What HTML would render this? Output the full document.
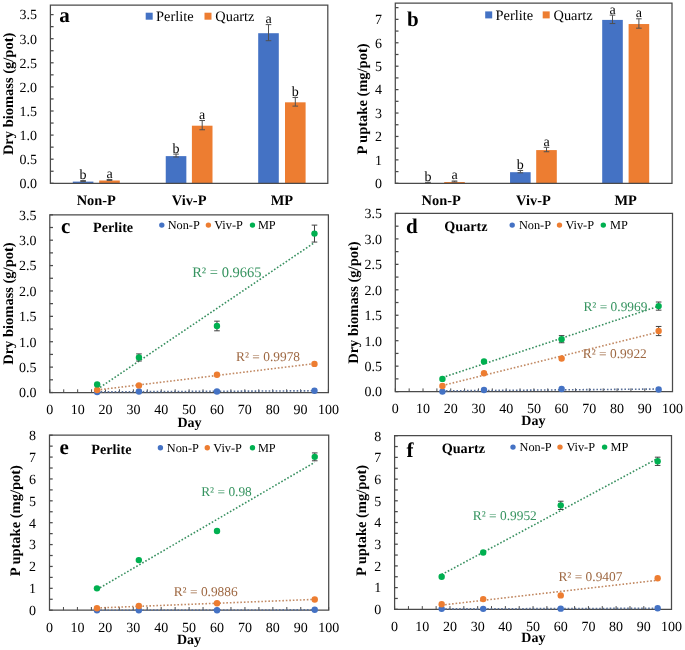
<!DOCTYPE html>
<html><head><meta charset="utf-8"><title>Figure</title>
<style>
html,body{margin:0;padding:0;background:#fff;}
body{width:685px;height:650px;overflow:hidden;}
svg{display:block;filter:blur(0.3px);font-family:'Liberation Serif', serif;text-rendering:geometricPrecision;}
</style></head>
<body>
<svg width="685" height="650" viewBox="0 0 685 650">
<rect width="685" height="650" fill="#fff"/>
<rect x="72.80" y="181.61" width="20.60" height="1.69" fill="#4472C4"/>
<rect x="99.20" y="180.50" width="20.60" height="2.80" fill="#ED7D31"/>
<line x1="83.10" y1="180.58" x2="83.10" y2="181.54" stroke="#505050" stroke-width="1" />
<line x1="80.30" y1="180.58" x2="85.90" y2="180.58" stroke="#505050" stroke-width="1" />
<line x1="80.30" y1="181.54" x2="85.90" y2="181.54" stroke="#505050" stroke-width="1" />
<text x="83.10" y="178.98" font-size="14" text-anchor="middle" font-weight="normal" fill="#000" >b</text>
<line x1="109.50" y1="179.47" x2="109.50" y2="180.44" stroke="#505050" stroke-width="1" />
<line x1="106.70" y1="179.47" x2="112.30" y2="179.47" stroke="#505050" stroke-width="1" />
<line x1="106.70" y1="180.44" x2="112.30" y2="180.44" stroke="#505050" stroke-width="1" />
<text x="109.50" y="177.87" font-size="14" text-anchor="middle" font-weight="normal" fill="#000" >a</text>
<text x="96.30" y="204.90" font-size="14.4" text-anchor="middle" font-weight="bold" fill="#000" >Non-P</text>
<rect x="165.75" y="156.12" width="20.60" height="27.18" fill="#4472C4"/>
<rect x="191.90" y="125.70" width="20.60" height="57.60" fill="#ED7D31"/>
<line x1="176.05" y1="154.12" x2="176.05" y2="157.01" stroke="#505050" stroke-width="1" />
<line x1="173.25" y1="154.12" x2="178.85" y2="154.12" stroke="#505050" stroke-width="1" />
<line x1="173.25" y1="157.01" x2="178.85" y2="157.01" stroke="#505050" stroke-width="1" />
<text x="176.05" y="152.52" font-size="14" text-anchor="middle" font-weight="normal" fill="#000" >b</text>
<line x1="202.20" y1="120.52" x2="202.20" y2="129.78" stroke="#505050" stroke-width="1" />
<line x1="199.40" y1="120.52" x2="205.00" y2="120.52" stroke="#505050" stroke-width="1" />
<line x1="199.40" y1="129.78" x2="205.00" y2="129.78" stroke="#505050" stroke-width="1" />
<text x="202.20" y="118.92" font-size="14" text-anchor="middle" font-weight="normal" fill="#000" >a</text>
<text x="189.12" y="204.90" font-size="14.4" text-anchor="middle" font-weight="bold" fill="#000" >Viv-P</text>
<rect x="258.20" y="33.21" width="20.60" height="150.09" fill="#4472C4"/>
<rect x="285.00" y="102.32" width="20.60" height="80.98" fill="#ED7D31"/>
<line x1="268.50" y1="24.61" x2="268.50" y2="40.70" stroke="#505050" stroke-width="1" />
<line x1="265.70" y1="24.61" x2="271.30" y2="24.61" stroke="#505050" stroke-width="1" />
<line x1="265.70" y1="40.70" x2="271.30" y2="40.70" stroke="#505050" stroke-width="1" />
<text x="268.50" y="23.01" font-size="14" text-anchor="middle" font-weight="normal" fill="#000" >a</text>
<line x1="295.30" y1="97.44" x2="295.30" y2="106.11" stroke="#505050" stroke-width="1" />
<line x1="292.50" y1="97.44" x2="298.10" y2="97.44" stroke="#505050" stroke-width="1" />
<line x1="292.50" y1="106.11" x2="298.10" y2="106.11" stroke="#505050" stroke-width="1" />
<text x="295.30" y="95.84" font-size="14" text-anchor="middle" font-weight="normal" fill="#000" >b</text>
<text x="281.90" y="204.90" font-size="14.4" text-anchor="middle" font-weight="bold" fill="#000" >MP</text>
<path d="M50.40 183.30 L50.40 5.00 L327.80 5.00 L327.80 183.30 Z" fill="none" stroke="#4a4a4a" stroke-width="1.25"/>
<line x1="50.40" y1="183.30" x2="53.60" y2="183.30" stroke="#4a4a4a" stroke-width="1.25" />
<line x1="50.40" y1="171.25" x2="53.60" y2="171.25" stroke="#4a4a4a" stroke-width="1.25" />
<line x1="50.40" y1="159.20" x2="53.60" y2="159.20" stroke="#4a4a4a" stroke-width="1.25" />
<line x1="50.40" y1="147.15" x2="53.60" y2="147.15" stroke="#4a4a4a" stroke-width="1.25" />
<line x1="50.40" y1="135.10" x2="53.60" y2="135.10" stroke="#4a4a4a" stroke-width="1.25" />
<line x1="50.40" y1="123.05" x2="53.60" y2="123.05" stroke="#4a4a4a" stroke-width="1.25" />
<line x1="50.40" y1="111.00" x2="53.60" y2="111.00" stroke="#4a4a4a" stroke-width="1.25" />
<line x1="50.40" y1="98.95" x2="53.60" y2="98.95" stroke="#4a4a4a" stroke-width="1.25" />
<line x1="50.40" y1="86.90" x2="53.60" y2="86.90" stroke="#4a4a4a" stroke-width="1.25" />
<line x1="50.40" y1="74.85" x2="53.60" y2="74.85" stroke="#4a4a4a" stroke-width="1.25" />
<line x1="50.40" y1="62.80" x2="53.60" y2="62.80" stroke="#4a4a4a" stroke-width="1.25" />
<line x1="50.40" y1="50.75" x2="53.60" y2="50.75" stroke="#4a4a4a" stroke-width="1.25" />
<line x1="50.40" y1="38.70" x2="53.60" y2="38.70" stroke="#4a4a4a" stroke-width="1.25" />
<line x1="50.40" y1="26.65" x2="53.60" y2="26.65" stroke="#4a4a4a" stroke-width="1.25" />
<line x1="50.40" y1="14.60" x2="53.60" y2="14.60" stroke="#4a4a4a" stroke-width="1.25" />
<text x="37.00" y="188.10" font-size="14" text-anchor="end" font-weight="normal" fill="#000" >0.0</text>
<text x="37.00" y="164.00" font-size="14" text-anchor="end" font-weight="normal" fill="#000" >0.5</text>
<text x="37.00" y="139.90" font-size="14" text-anchor="end" font-weight="normal" fill="#000" >1.0</text>
<text x="37.00" y="115.80" font-size="14" text-anchor="end" font-weight="normal" fill="#000" >1.5</text>
<text x="37.00" y="91.70" font-size="14" text-anchor="end" font-weight="normal" fill="#000" >2.0</text>
<text x="37.00" y="67.60" font-size="14" text-anchor="end" font-weight="normal" fill="#000" >2.5</text>
<text x="37.00" y="43.50" font-size="14" text-anchor="end" font-weight="normal" fill="#000" >3.0</text>
<text x="37.00" y="19.40" font-size="14" text-anchor="end" font-weight="normal" fill="#000" >3.5</text>
<text x="0" y="0" font-size="14.5" font-weight="bold" text-anchor="middle" fill="#000" transform="translate(12.70,93.90) rotate(-90)">Dry biomass (g/pot)</text>
<rect x="145.70" y="12.70" width="7" height="7" fill="#4472C4"/>
<text x="156.00" y="21.40" font-size="14.4" text-anchor="start" font-weight="normal" fill="#000" >Perlite</text>
<rect x="204.50" y="12.70" width="7" height="7" fill="#ED7D31"/>
<text x="215.30" y="21.40" font-size="14.4" text-anchor="start" font-weight="normal" fill="#000" >Quartz</text>
<text x="59.20" y="22.30" font-size="21.0" text-anchor="start" font-weight="bold" fill="#000" >a</text>
<rect x="417.60" y="183.07" width="20.60" height="0.23" fill="#4472C4"/>
<rect x="444.20" y="182.01" width="20.60" height="1.29" fill="#ED7D31"/>
<line x1="427.90" y1="182.28" x2="427.90" y2="182.75" stroke="#505050" stroke-width="1" />
<line x1="425.10" y1="182.28" x2="430.70" y2="182.28" stroke="#505050" stroke-width="1" />
<line x1="425.10" y1="182.75" x2="430.70" y2="182.75" stroke="#505050" stroke-width="1" />
<text x="427.90" y="180.68" font-size="14" text-anchor="middle" font-weight="normal" fill="#000" >b</text>
<line x1="454.50" y1="180.99" x2="454.50" y2="181.93" stroke="#505050" stroke-width="1" />
<line x1="451.70" y1="180.99" x2="457.30" y2="180.99" stroke="#505050" stroke-width="1" />
<line x1="451.70" y1="181.93" x2="457.30" y2="181.93" stroke="#505050" stroke-width="1" />
<text x="454.50" y="179.39" font-size="14" text-anchor="middle" font-weight="normal" fill="#000" >a</text>
<text x="441.20" y="204.90" font-size="14.4" text-anchor="middle" font-weight="bold" fill="#000" >Non-P</text>
<rect x="510.05" y="172.20" width="20.60" height="11.10" fill="#4472C4"/>
<rect x="536.20" y="150.09" width="20.60" height="33.21" fill="#ED7D31"/>
<line x1="520.35" y1="170.48" x2="520.35" y2="172.82" stroke="#505050" stroke-width="1" />
<line x1="517.55" y1="170.48" x2="523.15" y2="170.48" stroke="#505050" stroke-width="1" />
<line x1="517.55" y1="172.82" x2="523.15" y2="172.82" stroke="#505050" stroke-width="1" />
<text x="520.35" y="168.88" font-size="14" text-anchor="middle" font-weight="normal" fill="#000" >b</text>
<line x1="546.50" y1="147.34" x2="546.50" y2="151.74" stroke="#505050" stroke-width="1" />
<line x1="543.70" y1="147.34" x2="549.30" y2="147.34" stroke="#505050" stroke-width="1" />
<line x1="543.70" y1="151.74" x2="549.30" y2="151.74" stroke="#505050" stroke-width="1" />
<text x="546.50" y="145.74" font-size="14" text-anchor="middle" font-weight="normal" fill="#000" >a</text>
<text x="533.42" y="204.90" font-size="14.4" text-anchor="middle" font-weight="bold" fill="#000" >Viv-P</text>
<rect x="602.20" y="19.90" width="20.60" height="163.40" fill="#4472C4"/>
<rect x="628.60" y="24.04" width="20.60" height="159.26" fill="#ED7D31"/>
<line x1="612.50" y1="15.13" x2="612.50" y2="23.56" stroke="#505050" stroke-width="1" />
<line x1="609.70" y1="15.13" x2="615.30" y2="15.13" stroke="#505050" stroke-width="1" />
<line x1="609.70" y1="23.56" x2="615.30" y2="23.56" stroke="#505050" stroke-width="1" />
<text x="612.50" y="13.53" font-size="14" text-anchor="middle" font-weight="normal" fill="#000" >a</text>
<line x1="638.90" y1="18.81" x2="638.90" y2="28.18" stroke="#505050" stroke-width="1" />
<line x1="636.10" y1="18.81" x2="641.70" y2="18.81" stroke="#505050" stroke-width="1" />
<line x1="636.10" y1="28.18" x2="641.70" y2="28.18" stroke="#505050" stroke-width="1" />
<text x="638.90" y="17.21" font-size="14" text-anchor="middle" font-weight="normal" fill="#000" >a</text>
<text x="625.70" y="204.90" font-size="14.4" text-anchor="middle" font-weight="bold" fill="#000" >MP</text>
<path d="M395.30 183.30 L395.30 3.10 L672.00 3.10 L672.00 183.30 Z" fill="none" stroke="#4a4a4a" stroke-width="1.25"/>
<line x1="395.30" y1="183.30" x2="398.50" y2="183.30" stroke="#4a4a4a" stroke-width="1.25" />
<line x1="395.30" y1="171.59" x2="398.50" y2="171.59" stroke="#4a4a4a" stroke-width="1.25" />
<line x1="395.30" y1="159.88" x2="398.50" y2="159.88" stroke="#4a4a4a" stroke-width="1.25" />
<line x1="395.30" y1="148.17" x2="398.50" y2="148.17" stroke="#4a4a4a" stroke-width="1.25" />
<line x1="395.30" y1="136.46" x2="398.50" y2="136.46" stroke="#4a4a4a" stroke-width="1.25" />
<line x1="395.30" y1="124.75" x2="398.50" y2="124.75" stroke="#4a4a4a" stroke-width="1.25" />
<line x1="395.30" y1="113.04" x2="398.50" y2="113.04" stroke="#4a4a4a" stroke-width="1.25" />
<line x1="395.30" y1="101.33" x2="398.50" y2="101.33" stroke="#4a4a4a" stroke-width="1.25" />
<line x1="395.30" y1="89.62" x2="398.50" y2="89.62" stroke="#4a4a4a" stroke-width="1.25" />
<line x1="395.30" y1="77.91" x2="398.50" y2="77.91" stroke="#4a4a4a" stroke-width="1.25" />
<line x1="395.30" y1="66.20" x2="398.50" y2="66.20" stroke="#4a4a4a" stroke-width="1.25" />
<line x1="395.30" y1="54.49" x2="398.50" y2="54.49" stroke="#4a4a4a" stroke-width="1.25" />
<line x1="395.30" y1="42.78" x2="398.50" y2="42.78" stroke="#4a4a4a" stroke-width="1.25" />
<line x1="395.30" y1="31.07" x2="398.50" y2="31.07" stroke="#4a4a4a" stroke-width="1.25" />
<line x1="395.30" y1="19.36" x2="398.50" y2="19.36" stroke="#4a4a4a" stroke-width="1.25" />
<line x1="395.30" y1="7.65" x2="398.50" y2="7.65" stroke="#4a4a4a" stroke-width="1.25" />
<text x="381.90" y="188.10" font-size="14" text-anchor="end" font-weight="normal" fill="#000" >0</text>
<text x="381.90" y="164.68" font-size="14" text-anchor="end" font-weight="normal" fill="#000" >1</text>
<text x="381.90" y="141.26" font-size="14" text-anchor="end" font-weight="normal" fill="#000" >2</text>
<text x="381.90" y="117.84" font-size="14" text-anchor="end" font-weight="normal" fill="#000" >3</text>
<text x="381.90" y="94.42" font-size="14" text-anchor="end" font-weight="normal" fill="#000" >4</text>
<text x="381.90" y="71.00" font-size="14" text-anchor="end" font-weight="normal" fill="#000" >5</text>
<text x="381.90" y="47.58" font-size="14" text-anchor="end" font-weight="normal" fill="#000" >6</text>
<text x="381.90" y="24.16" font-size="14" text-anchor="end" font-weight="normal" fill="#000" >7</text>
<text x="0" y="0" font-size="14.5" font-weight="bold" text-anchor="middle" fill="#000" transform="translate(367.00,99.00) rotate(-90)">P uptake (mg/pot)</text>
<rect x="485.20" y="11.40" width="7" height="7" fill="#4472C4"/>
<text x="495.50" y="20.10" font-size="14.4" text-anchor="start" font-weight="normal" fill="#000" >Perlite</text>
<rect x="542.70" y="11.40" width="7" height="7" fill="#ED7D31"/>
<text x="553.50" y="20.10" font-size="14.4" text-anchor="start" font-weight="normal" fill="#000" >Quartz</text>
<text x="407.00" y="26.00" font-size="21.0" text-anchor="start" font-weight="bold" fill="#000" >b</text>
<path d="M49.80 392.50 L49.80 214.90 L328.40 214.90 L328.40 392.50 Z" fill="none" stroke="#4a4a4a" stroke-width="1.25"/>
<line x1="49.80" y1="392.50" x2="49.80" y2="389.30" stroke="#4a4a4a" stroke-width="1.0" />
<line x1="63.73" y1="392.50" x2="63.73" y2="389.30" stroke="#4a4a4a" stroke-width="1.0" />
<line x1="77.66" y1="392.50" x2="77.66" y2="389.30" stroke="#4a4a4a" stroke-width="1.0" />
<line x1="91.59" y1="392.50" x2="91.59" y2="389.30" stroke="#4a4a4a" stroke-width="1.0" />
<line x1="105.52" y1="392.50" x2="105.52" y2="389.30" stroke="#4a4a4a" stroke-width="1.0" />
<line x1="119.45" y1="392.50" x2="119.45" y2="389.30" stroke="#4a4a4a" stroke-width="1.0" />
<line x1="133.38" y1="392.50" x2="133.38" y2="389.30" stroke="#4a4a4a" stroke-width="1.0" />
<line x1="147.31" y1="392.50" x2="147.31" y2="389.30" stroke="#4a4a4a" stroke-width="1.0" />
<line x1="161.24" y1="392.50" x2="161.24" y2="389.30" stroke="#4a4a4a" stroke-width="1.0" />
<line x1="175.17" y1="392.50" x2="175.17" y2="389.30" stroke="#4a4a4a" stroke-width="1.0" />
<line x1="189.10" y1="392.50" x2="189.10" y2="389.30" stroke="#4a4a4a" stroke-width="1.0" />
<line x1="203.03" y1="392.50" x2="203.03" y2="389.30" stroke="#4a4a4a" stroke-width="1.0" />
<line x1="216.96" y1="392.50" x2="216.96" y2="389.30" stroke="#4a4a4a" stroke-width="1.0" />
<line x1="230.89" y1="392.50" x2="230.89" y2="389.30" stroke="#4a4a4a" stroke-width="1.0" />
<line x1="244.82" y1="392.50" x2="244.82" y2="389.30" stroke="#4a4a4a" stroke-width="1.0" />
<line x1="258.75" y1="392.50" x2="258.75" y2="389.30" stroke="#4a4a4a" stroke-width="1.0" />
<line x1="272.68" y1="392.50" x2="272.68" y2="389.30" stroke="#4a4a4a" stroke-width="1.0" />
<line x1="286.61" y1="392.50" x2="286.61" y2="389.30" stroke="#4a4a4a" stroke-width="1.0" />
<line x1="300.54" y1="392.50" x2="300.54" y2="389.30" stroke="#4a4a4a" stroke-width="1.0" />
<line x1="314.47" y1="392.50" x2="314.47" y2="389.30" stroke="#4a4a4a" stroke-width="1.0" />
<line x1="328.40" y1="392.50" x2="328.40" y2="389.30" stroke="#4a4a4a" stroke-width="1.0" />
<text x="49.80" y="414.10" font-size="14" text-anchor="middle" font-weight="normal" fill="#000" >0</text>
<text x="77.66" y="414.10" font-size="14" text-anchor="middle" font-weight="normal" fill="#000" >10</text>
<text x="105.52" y="414.10" font-size="14" text-anchor="middle" font-weight="normal" fill="#000" >20</text>
<text x="133.38" y="414.10" font-size="14" text-anchor="middle" font-weight="normal" fill="#000" >30</text>
<text x="161.24" y="414.10" font-size="14" text-anchor="middle" font-weight="normal" fill="#000" >40</text>
<text x="189.10" y="414.10" font-size="14" text-anchor="middle" font-weight="normal" fill="#000" >50</text>
<text x="216.96" y="414.10" font-size="14" text-anchor="middle" font-weight="normal" fill="#000" >60</text>
<text x="244.82" y="414.10" font-size="14" text-anchor="middle" font-weight="normal" fill="#000" >70</text>
<text x="272.68" y="414.10" font-size="14" text-anchor="middle" font-weight="normal" fill="#000" >80</text>
<text x="300.54" y="414.10" font-size="14" text-anchor="middle" font-weight="normal" fill="#000" >90</text>
<text x="328.40" y="414.10" font-size="14" text-anchor="middle" font-weight="normal" fill="#000" >100</text>
<line x1="49.80" y1="392.50" x2="53.00" y2="392.50" stroke="#4a4a4a" stroke-width="1.25" />
<line x1="49.80" y1="379.81" x2="53.00" y2="379.81" stroke="#4a4a4a" stroke-width="1.25" />
<line x1="49.80" y1="367.12" x2="53.00" y2="367.12" stroke="#4a4a4a" stroke-width="1.25" />
<line x1="49.80" y1="354.42" x2="53.00" y2="354.42" stroke="#4a4a4a" stroke-width="1.25" />
<line x1="49.80" y1="341.73" x2="53.00" y2="341.73" stroke="#4a4a4a" stroke-width="1.25" />
<line x1="49.80" y1="329.04" x2="53.00" y2="329.04" stroke="#4a4a4a" stroke-width="1.25" />
<line x1="49.80" y1="316.35" x2="53.00" y2="316.35" stroke="#4a4a4a" stroke-width="1.25" />
<line x1="49.80" y1="303.65" x2="53.00" y2="303.65" stroke="#4a4a4a" stroke-width="1.25" />
<line x1="49.80" y1="290.96" x2="53.00" y2="290.96" stroke="#4a4a4a" stroke-width="1.25" />
<line x1="49.80" y1="278.27" x2="53.00" y2="278.27" stroke="#4a4a4a" stroke-width="1.25" />
<line x1="49.80" y1="265.57" x2="53.00" y2="265.57" stroke="#4a4a4a" stroke-width="1.25" />
<line x1="49.80" y1="252.88" x2="53.00" y2="252.88" stroke="#4a4a4a" stroke-width="1.25" />
<line x1="49.80" y1="240.19" x2="53.00" y2="240.19" stroke="#4a4a4a" stroke-width="1.25" />
<line x1="49.80" y1="227.50" x2="53.00" y2="227.50" stroke="#4a4a4a" stroke-width="1.25" />
<line x1="49.80" y1="214.80" x2="53.00" y2="214.80" stroke="#4a4a4a" stroke-width="1.25" />
<text x="36.40" y="397.30" font-size="14" text-anchor="end" font-weight="normal" fill="#000" >0.0</text>
<text x="36.40" y="371.92" font-size="14" text-anchor="end" font-weight="normal" fill="#000" >0.5</text>
<text x="36.40" y="346.53" font-size="14" text-anchor="end" font-weight="normal" fill="#000" >1.0</text>
<text x="36.40" y="321.15" font-size="14" text-anchor="end" font-weight="normal" fill="#000" >1.5</text>
<text x="36.40" y="295.76" font-size="14" text-anchor="end" font-weight="normal" fill="#000" >2.0</text>
<text x="36.40" y="270.38" font-size="14" text-anchor="end" font-weight="normal" fill="#000" >2.5</text>
<text x="36.40" y="244.99" font-size="14" text-anchor="end" font-weight="normal" fill="#000" >3.0</text>
<text x="36.40" y="219.60" font-size="14" text-anchor="end" font-weight="normal" fill="#000" >3.5</text>
<text x="0" y="0" font-size="14.5" font-weight="bold" text-anchor="middle" fill="#000" transform="translate(12.70,303.60) rotate(-90)">Dry biomass (g/pot)</text>
<line x1="97.16" y1="391.91" x2="314.47" y2="390.79" stroke="#597099" stroke-width="1.6" stroke-dasharray="1.6 1.9"/>
<line x1="97.16" y1="390.01" x2="314.47" y2="363.61" stroke="#C28A64" stroke-width="1.6" stroke-dasharray="1.6 1.9"/>
<line x1="97.16" y1="389.32" x2="314.47" y2="242.58" stroke="#389060" stroke-width="1.6" stroke-dasharray="1.6 1.9"/>
<circle cx="97.16" cy="391.99" r="3.2" fill="#4472C4"/>
<circle cx="138.95" cy="391.48" r="3.2" fill="#4472C4"/>
<circle cx="216.96" cy="391.48" r="3.2" fill="#4472C4"/>
<circle cx="314.47" cy="390.72" r="3.2" fill="#4472C4"/>
<circle cx="97.16" cy="389.96" r="3.2" fill="#ED7D31"/>
<circle cx="138.95" cy="385.39" r="3.2" fill="#ED7D31"/>
<circle cx="216.96" cy="374.73" r="3.2" fill="#ED7D31"/>
<circle cx="314.47" cy="363.92" r="3.2" fill="#ED7D31"/>
<circle cx="97.16" cy="384.38" r="3.2" fill="#00B050"/>
<line x1="138.95" y1="353.91" x2="138.95" y2="361.02" stroke="#404040" stroke-width="1" />
<line x1="136.15" y1="353.91" x2="141.75" y2="353.91" stroke="#404040" stroke-width="1" />
<line x1="136.15" y1="361.02" x2="141.75" y2="361.02" stroke="#404040" stroke-width="1" />
<circle cx="138.95" cy="357.47" r="3.2" fill="#00B050"/>
<line x1="216.96" y1="321.17" x2="216.96" y2="330.81" stroke="#404040" stroke-width="1" />
<line x1="214.16" y1="321.17" x2="219.76" y2="321.17" stroke="#404040" stroke-width="1" />
<line x1="214.16" y1="330.81" x2="219.76" y2="330.81" stroke="#404040" stroke-width="1" />
<circle cx="216.96" cy="325.99" r="3.2" fill="#00B050"/>
<line x1="314.47" y1="225.11" x2="314.47" y2="242.07" stroke="#404040" stroke-width="1" />
<line x1="311.67" y1="225.11" x2="317.27" y2="225.11" stroke="#404040" stroke-width="1" />
<line x1="311.67" y1="242.07" x2="317.27" y2="242.07" stroke="#404040" stroke-width="1" />
<circle cx="314.47" cy="233.59" r="3.2" fill="#00B050"/>
<text x="192.20" y="277.20" font-size="14.5" text-anchor="start" font-weight="normal" fill="#35935F" >R² = 0.9665</text>
<text x="236.00" y="360.80" font-size="13.4" text-anchor="start" font-weight="normal" fill="#9E6842" >R² = 0.9978</text>
<text x="93.00" y="231.60" font-size="14.2" text-anchor="start" font-weight="bold" fill="#000" >Perlite</text>
<circle cx="161.80" cy="225.10" r="2.7" fill="#4472C4"/>
<text x="167.70" y="229.20" font-size="12.3" text-anchor="start" font-weight="normal" fill="#000" >Non-P</text>
<circle cx="208.40" cy="225.10" r="2.7" fill="#ED7D31"/>
<text x="214.20" y="229.20" font-size="12.3" text-anchor="start" font-weight="normal" fill="#000" >Viv-P</text>
<circle cx="252.50" cy="225.10" r="2.7" fill="#00B050"/>
<text x="257.90" y="229.20" font-size="12.3" text-anchor="start" font-weight="normal" fill="#000" >MP</text>
<text x="177.50" y="427.20" font-size="14" text-anchor="start" font-weight="bold" fill="#000" >Day</text>
<text x="61.00" y="233.00" font-size="21.0" text-anchor="start" font-weight="bold" fill="#000" >c</text>
<path d="M395.30 391.60 L395.30 213.40 L672.50 213.40 L672.50 391.60 Z" fill="none" stroke="#4a4a4a" stroke-width="1.25"/>
<line x1="395.30" y1="391.60" x2="395.30" y2="388.40" stroke="#4a4a4a" stroke-width="1.0" />
<line x1="409.16" y1="391.60" x2="409.16" y2="388.40" stroke="#4a4a4a" stroke-width="1.0" />
<line x1="423.02" y1="391.60" x2="423.02" y2="388.40" stroke="#4a4a4a" stroke-width="1.0" />
<line x1="436.88" y1="391.60" x2="436.88" y2="388.40" stroke="#4a4a4a" stroke-width="1.0" />
<line x1="450.74" y1="391.60" x2="450.74" y2="388.40" stroke="#4a4a4a" stroke-width="1.0" />
<line x1="464.60" y1="391.60" x2="464.60" y2="388.40" stroke="#4a4a4a" stroke-width="1.0" />
<line x1="478.46" y1="391.60" x2="478.46" y2="388.40" stroke="#4a4a4a" stroke-width="1.0" />
<line x1="492.32" y1="391.60" x2="492.32" y2="388.40" stroke="#4a4a4a" stroke-width="1.0" />
<line x1="506.18" y1="391.60" x2="506.18" y2="388.40" stroke="#4a4a4a" stroke-width="1.0" />
<line x1="520.04" y1="391.60" x2="520.04" y2="388.40" stroke="#4a4a4a" stroke-width="1.0" />
<line x1="533.90" y1="391.60" x2="533.90" y2="388.40" stroke="#4a4a4a" stroke-width="1.0" />
<line x1="547.76" y1="391.60" x2="547.76" y2="388.40" stroke="#4a4a4a" stroke-width="1.0" />
<line x1="561.62" y1="391.60" x2="561.62" y2="388.40" stroke="#4a4a4a" stroke-width="1.0" />
<line x1="575.48" y1="391.60" x2="575.48" y2="388.40" stroke="#4a4a4a" stroke-width="1.0" />
<line x1="589.34" y1="391.60" x2="589.34" y2="388.40" stroke="#4a4a4a" stroke-width="1.0" />
<line x1="603.20" y1="391.60" x2="603.20" y2="388.40" stroke="#4a4a4a" stroke-width="1.0" />
<line x1="617.06" y1="391.60" x2="617.06" y2="388.40" stroke="#4a4a4a" stroke-width="1.0" />
<line x1="630.92" y1="391.60" x2="630.92" y2="388.40" stroke="#4a4a4a" stroke-width="1.0" />
<line x1="644.78" y1="391.60" x2="644.78" y2="388.40" stroke="#4a4a4a" stroke-width="1.0" />
<line x1="658.64" y1="391.60" x2="658.64" y2="388.40" stroke="#4a4a4a" stroke-width="1.0" />
<line x1="672.50" y1="391.60" x2="672.50" y2="388.40" stroke="#4a4a4a" stroke-width="1.0" />
<text x="395.30" y="413.20" font-size="14" text-anchor="middle" font-weight="normal" fill="#000" >0</text>
<text x="423.02" y="413.20" font-size="14" text-anchor="middle" font-weight="normal" fill="#000" >10</text>
<text x="450.74" y="413.20" font-size="14" text-anchor="middle" font-weight="normal" fill="#000" >20</text>
<text x="478.46" y="413.20" font-size="14" text-anchor="middle" font-weight="normal" fill="#000" >30</text>
<text x="506.18" y="413.20" font-size="14" text-anchor="middle" font-weight="normal" fill="#000" >40</text>
<text x="533.90" y="413.20" font-size="14" text-anchor="middle" font-weight="normal" fill="#000" >50</text>
<text x="561.62" y="413.20" font-size="14" text-anchor="middle" font-weight="normal" fill="#000" >60</text>
<text x="589.34" y="413.20" font-size="14" text-anchor="middle" font-weight="normal" fill="#000" >70</text>
<text x="617.06" y="413.20" font-size="14" text-anchor="middle" font-weight="normal" fill="#000" >80</text>
<text x="644.78" y="413.20" font-size="14" text-anchor="middle" font-weight="normal" fill="#000" >90</text>
<text x="672.50" y="413.20" font-size="14" text-anchor="middle" font-weight="normal" fill="#000" >100</text>
<line x1="395.30" y1="391.60" x2="398.50" y2="391.60" stroke="#4a4a4a" stroke-width="1.25" />
<line x1="395.30" y1="378.88" x2="398.50" y2="378.88" stroke="#4a4a4a" stroke-width="1.25" />
<line x1="395.30" y1="366.15" x2="398.50" y2="366.15" stroke="#4a4a4a" stroke-width="1.25" />
<line x1="395.30" y1="353.43" x2="398.50" y2="353.43" stroke="#4a4a4a" stroke-width="1.25" />
<line x1="395.30" y1="340.70" x2="398.50" y2="340.70" stroke="#4a4a4a" stroke-width="1.25" />
<line x1="395.30" y1="327.98" x2="398.50" y2="327.98" stroke="#4a4a4a" stroke-width="1.25" />
<line x1="395.30" y1="315.25" x2="398.50" y2="315.25" stroke="#4a4a4a" stroke-width="1.25" />
<line x1="395.30" y1="302.53" x2="398.50" y2="302.53" stroke="#4a4a4a" stroke-width="1.25" />
<line x1="395.30" y1="289.80" x2="398.50" y2="289.80" stroke="#4a4a4a" stroke-width="1.25" />
<line x1="395.30" y1="277.08" x2="398.50" y2="277.08" stroke="#4a4a4a" stroke-width="1.25" />
<line x1="395.30" y1="264.35" x2="398.50" y2="264.35" stroke="#4a4a4a" stroke-width="1.25" />
<line x1="395.30" y1="251.63" x2="398.50" y2="251.63" stroke="#4a4a4a" stroke-width="1.25" />
<line x1="395.30" y1="238.90" x2="398.50" y2="238.90" stroke="#4a4a4a" stroke-width="1.25" />
<line x1="395.30" y1="226.18" x2="398.50" y2="226.18" stroke="#4a4a4a" stroke-width="1.25" />
<line x1="395.30" y1="213.45" x2="398.50" y2="213.45" stroke="#4a4a4a" stroke-width="1.25" />
<text x="381.90" y="396.40" font-size="14" text-anchor="end" font-weight="normal" fill="#000" >0.0</text>
<text x="381.90" y="370.95" font-size="14" text-anchor="end" font-weight="normal" fill="#000" >0.5</text>
<text x="381.90" y="345.50" font-size="14" text-anchor="end" font-weight="normal" fill="#000" >1.0</text>
<text x="381.90" y="320.05" font-size="14" text-anchor="end" font-weight="normal" fill="#000" >1.5</text>
<text x="381.90" y="294.60" font-size="14" text-anchor="end" font-weight="normal" fill="#000" >2.0</text>
<text x="381.90" y="269.15" font-size="14" text-anchor="end" font-weight="normal" fill="#000" >2.5</text>
<text x="381.90" y="243.70" font-size="14" text-anchor="end" font-weight="normal" fill="#000" >3.0</text>
<text x="381.90" y="218.25" font-size="14" text-anchor="end" font-weight="normal" fill="#000" >3.5</text>
<text x="0" y="0" font-size="14.5" font-weight="bold" text-anchor="middle" fill="#000" transform="translate(358.00,302.60) rotate(-90)">Dry biomass (g/pot)</text>
<line x1="442.42" y1="390.88" x2="658.64" y2="389.03" stroke="#597099" stroke-width="1.6" stroke-dasharray="1.6 1.9"/>
<line x1="442.42" y1="385.53" x2="658.64" y2="332.02" stroke="#C28A64" stroke-width="1.6" stroke-dasharray="1.6 1.9"/>
<line x1="442.42" y1="377.51" x2="658.64" y2="306.20" stroke="#389060" stroke-width="1.6" stroke-dasharray="1.6 1.9"/>
<circle cx="442.42" cy="391.60" r="3.2" fill="#4472C4"/>
<circle cx="484.00" cy="390.07" r="3.2" fill="#4472C4"/>
<circle cx="561.62" cy="389.06" r="3.2" fill="#4472C4"/>
<circle cx="658.64" cy="389.56" r="3.2" fill="#4472C4"/>
<circle cx="442.42" cy="386.00" r="3.2" fill="#ED7D31"/>
<circle cx="484.00" cy="373.28" r="3.2" fill="#ED7D31"/>
<circle cx="561.62" cy="358.52" r="3.2" fill="#ED7D31"/>
<line x1="658.64" y1="326.45" x2="658.64" y2="335.61" stroke="#404040" stroke-width="1" />
<line x1="655.84" y1="326.45" x2="661.44" y2="326.45" stroke="#404040" stroke-width="1" />
<line x1="655.84" y1="335.61" x2="661.44" y2="335.61" stroke="#404040" stroke-width="1" />
<circle cx="658.64" cy="331.03" r="3.2" fill="#ED7D31"/>
<circle cx="442.42" cy="378.88" r="3.2" fill="#00B050"/>
<circle cx="484.00" cy="361.57" r="3.2" fill="#00B050"/>
<line x1="561.62" y1="335.61" x2="561.62" y2="342.74" stroke="#404040" stroke-width="1" />
<line x1="558.82" y1="335.61" x2="564.42" y2="335.61" stroke="#404040" stroke-width="1" />
<line x1="558.82" y1="342.74" x2="564.42" y2="342.74" stroke="#404040" stroke-width="1" />
<circle cx="561.62" cy="339.17" r="3.2" fill="#00B050"/>
<line x1="658.64" y1="302.02" x2="658.64" y2="310.16" stroke="#404040" stroke-width="1" />
<line x1="655.84" y1="302.02" x2="661.44" y2="302.02" stroke="#404040" stroke-width="1" />
<line x1="655.84" y1="310.16" x2="661.44" y2="310.16" stroke="#404040" stroke-width="1" />
<circle cx="658.64" cy="306.09" r="3.2" fill="#00B050"/>
<text x="583.40" y="311.10" font-size="13.4" text-anchor="start" font-weight="normal" fill="#35935F" >R² = 0.9969</text>
<text x="582.80" y="358.40" font-size="13.4" text-anchor="start" font-weight="normal" fill="#9E6842" >R² = 0.9922</text>
<text x="444.30" y="230.80" font-size="14.2" text-anchor="start" font-weight="bold" fill="#000" >Quartz</text>
<circle cx="512.20" cy="225.10" r="2.7" fill="#4472C4"/>
<text x="518.90" y="229.20" font-size="12.3" text-anchor="start" font-weight="normal" fill="#000" >Non-P</text>
<circle cx="559.50" cy="225.10" r="2.7" fill="#ED7D31"/>
<text x="565.40" y="229.20" font-size="12.3" text-anchor="start" font-weight="normal" fill="#000" >Viv-P</text>
<circle cx="603.30" cy="225.10" r="2.7" fill="#00B050"/>
<text x="610.00" y="229.20" font-size="12.3" text-anchor="start" font-weight="normal" fill="#000" >MP</text>
<text x="521.30" y="424.90" font-size="14" text-anchor="start" font-weight="bold" fill="#000" >Day</text>
<text x="406.00" y="233.00" font-size="21.0" text-anchor="start" font-weight="bold" fill="#000" >d</text>
<path d="M49.50 610.20 L49.50 435.20 L328.70 435.20 L328.70 610.20 Z" fill="none" stroke="#4a4a4a" stroke-width="1.25"/>
<line x1="49.50" y1="610.20" x2="49.50" y2="607.00" stroke="#4a4a4a" stroke-width="1.0" />
<line x1="63.46" y1="610.20" x2="63.46" y2="607.00" stroke="#4a4a4a" stroke-width="1.0" />
<line x1="77.42" y1="610.20" x2="77.42" y2="607.00" stroke="#4a4a4a" stroke-width="1.0" />
<line x1="91.38" y1="610.20" x2="91.38" y2="607.00" stroke="#4a4a4a" stroke-width="1.0" />
<line x1="105.34" y1="610.20" x2="105.34" y2="607.00" stroke="#4a4a4a" stroke-width="1.0" />
<line x1="119.30" y1="610.20" x2="119.30" y2="607.00" stroke="#4a4a4a" stroke-width="1.0" />
<line x1="133.26" y1="610.20" x2="133.26" y2="607.00" stroke="#4a4a4a" stroke-width="1.0" />
<line x1="147.22" y1="610.20" x2="147.22" y2="607.00" stroke="#4a4a4a" stroke-width="1.0" />
<line x1="161.18" y1="610.20" x2="161.18" y2="607.00" stroke="#4a4a4a" stroke-width="1.0" />
<line x1="175.14" y1="610.20" x2="175.14" y2="607.00" stroke="#4a4a4a" stroke-width="1.0" />
<line x1="189.10" y1="610.20" x2="189.10" y2="607.00" stroke="#4a4a4a" stroke-width="1.0" />
<line x1="203.06" y1="610.20" x2="203.06" y2="607.00" stroke="#4a4a4a" stroke-width="1.0" />
<line x1="217.02" y1="610.20" x2="217.02" y2="607.00" stroke="#4a4a4a" stroke-width="1.0" />
<line x1="230.98" y1="610.20" x2="230.98" y2="607.00" stroke="#4a4a4a" stroke-width="1.0" />
<line x1="244.94" y1="610.20" x2="244.94" y2="607.00" stroke="#4a4a4a" stroke-width="1.0" />
<line x1="258.90" y1="610.20" x2="258.90" y2="607.00" stroke="#4a4a4a" stroke-width="1.0" />
<line x1="272.86" y1="610.20" x2="272.86" y2="607.00" stroke="#4a4a4a" stroke-width="1.0" />
<line x1="286.82" y1="610.20" x2="286.82" y2="607.00" stroke="#4a4a4a" stroke-width="1.0" />
<line x1="300.78" y1="610.20" x2="300.78" y2="607.00" stroke="#4a4a4a" stroke-width="1.0" />
<line x1="314.74" y1="610.20" x2="314.74" y2="607.00" stroke="#4a4a4a" stroke-width="1.0" />
<line x1="328.70" y1="610.20" x2="328.70" y2="607.00" stroke="#4a4a4a" stroke-width="1.0" />
<text x="49.50" y="631.80" font-size="14" text-anchor="middle" font-weight="normal" fill="#000" >0</text>
<text x="77.42" y="631.80" font-size="14" text-anchor="middle" font-weight="normal" fill="#000" >10</text>
<text x="105.34" y="631.80" font-size="14" text-anchor="middle" font-weight="normal" fill="#000" >20</text>
<text x="133.26" y="631.80" font-size="14" text-anchor="middle" font-weight="normal" fill="#000" >30</text>
<text x="161.18" y="631.80" font-size="14" text-anchor="middle" font-weight="normal" fill="#000" >40</text>
<text x="189.10" y="631.80" font-size="14" text-anchor="middle" font-weight="normal" fill="#000" >50</text>
<text x="217.02" y="631.80" font-size="14" text-anchor="middle" font-weight="normal" fill="#000" >60</text>
<text x="244.94" y="631.80" font-size="14" text-anchor="middle" font-weight="normal" fill="#000" >70</text>
<text x="272.86" y="631.80" font-size="14" text-anchor="middle" font-weight="normal" fill="#000" >80</text>
<text x="300.78" y="631.80" font-size="14" text-anchor="middle" font-weight="normal" fill="#000" >90</text>
<text x="328.70" y="631.80" font-size="14" text-anchor="middle" font-weight="normal" fill="#000" >100</text>
<line x1="49.50" y1="610.20" x2="52.70" y2="610.20" stroke="#4a4a4a" stroke-width="1.25" />
<line x1="49.50" y1="599.26" x2="52.70" y2="599.26" stroke="#4a4a4a" stroke-width="1.25" />
<line x1="49.50" y1="588.33" x2="52.70" y2="588.33" stroke="#4a4a4a" stroke-width="1.25" />
<line x1="49.50" y1="577.39" x2="52.70" y2="577.39" stroke="#4a4a4a" stroke-width="1.25" />
<line x1="49.50" y1="566.45" x2="52.70" y2="566.45" stroke="#4a4a4a" stroke-width="1.25" />
<line x1="49.50" y1="555.51" x2="52.70" y2="555.51" stroke="#4a4a4a" stroke-width="1.25" />
<line x1="49.50" y1="544.58" x2="52.70" y2="544.58" stroke="#4a4a4a" stroke-width="1.25" />
<line x1="49.50" y1="533.64" x2="52.70" y2="533.64" stroke="#4a4a4a" stroke-width="1.25" />
<line x1="49.50" y1="522.70" x2="52.70" y2="522.70" stroke="#4a4a4a" stroke-width="1.25" />
<line x1="49.50" y1="511.76" x2="52.70" y2="511.76" stroke="#4a4a4a" stroke-width="1.25" />
<line x1="49.50" y1="500.83" x2="52.70" y2="500.83" stroke="#4a4a4a" stroke-width="1.25" />
<line x1="49.50" y1="489.89" x2="52.70" y2="489.89" stroke="#4a4a4a" stroke-width="1.25" />
<line x1="49.50" y1="478.95" x2="52.70" y2="478.95" stroke="#4a4a4a" stroke-width="1.25" />
<line x1="49.50" y1="468.01" x2="52.70" y2="468.01" stroke="#4a4a4a" stroke-width="1.25" />
<line x1="49.50" y1="457.08" x2="52.70" y2="457.08" stroke="#4a4a4a" stroke-width="1.25" />
<line x1="49.50" y1="446.14" x2="52.70" y2="446.14" stroke="#4a4a4a" stroke-width="1.25" />
<line x1="49.50" y1="435.20" x2="52.70" y2="435.20" stroke="#4a4a4a" stroke-width="1.25" />
<text x="36.10" y="615.00" font-size="14" text-anchor="end" font-weight="normal" fill="#000" >0</text>
<text x="36.10" y="593.12" font-size="14" text-anchor="end" font-weight="normal" fill="#000" >1</text>
<text x="36.10" y="571.25" font-size="14" text-anchor="end" font-weight="normal" fill="#000" >2</text>
<text x="36.10" y="549.38" font-size="14" text-anchor="end" font-weight="normal" fill="#000" >3</text>
<text x="36.10" y="527.50" font-size="14" text-anchor="end" font-weight="normal" fill="#000" >4</text>
<text x="36.10" y="505.63" font-size="14" text-anchor="end" font-weight="normal" fill="#000" >5</text>
<text x="36.10" y="483.75" font-size="14" text-anchor="end" font-weight="normal" fill="#000" >6</text>
<text x="36.10" y="461.88" font-size="14" text-anchor="end" font-weight="normal" fill="#000" >7</text>
<text x="36.10" y="440.00" font-size="14" text-anchor="end" font-weight="normal" fill="#000" >8</text>
<text x="0" y="0" font-size="14.5" font-weight="bold" text-anchor="middle" fill="#000" transform="translate(20.00,520.70) rotate(-90)">P uptake (mg/pot)</text>
<line x1="96.96" y1="610.28" x2="314.74" y2="609.85" stroke="#597099" stroke-width="1.6" stroke-dasharray="1.6 1.9"/>
<line x1="96.96" y1="607.98" x2="314.74" y2="599.40" stroke="#C28A64" stroke-width="1.6" stroke-dasharray="1.6 1.9"/>
<line x1="96.96" y1="589.53" x2="314.74" y2="462.31" stroke="#389060" stroke-width="1.6" stroke-dasharray="1.6 1.9"/>
<circle cx="96.96" cy="610.20" r="3.2" fill="#4472C4"/>
<circle cx="138.84" cy="610.20" r="3.2" fill="#4472C4"/>
<circle cx="217.02" cy="610.20" r="3.2" fill="#4472C4"/>
<circle cx="314.74" cy="609.76" r="3.2" fill="#4472C4"/>
<circle cx="96.96" cy="608.23" r="3.2" fill="#ED7D31"/>
<circle cx="138.84" cy="606.04" r="3.2" fill="#ED7D31"/>
<circle cx="217.02" cy="603.20" r="3.2" fill="#ED7D31"/>
<circle cx="314.74" cy="599.48" r="3.2" fill="#ED7D31"/>
<circle cx="96.96" cy="588.33" r="3.2" fill="#00B050"/>
<circle cx="138.84" cy="560.11" r="3.2" fill="#00B050"/>
<circle cx="217.02" cy="531.01" r="3.2" fill="#00B050"/>
<line x1="314.74" y1="452.92" x2="314.74" y2="460.79" stroke="#404040" stroke-width="1" />
<line x1="311.94" y1="452.92" x2="317.54" y2="452.92" stroke="#404040" stroke-width="1" />
<line x1="311.94" y1="460.79" x2="317.54" y2="460.79" stroke="#404040" stroke-width="1" />
<circle cx="314.74" cy="456.86" r="3.2" fill="#00B050"/>
<text x="201.20" y="496.40" font-size="13.4" text-anchor="start" font-weight="normal" fill="#35935F" >R² = 0.98</text>
<text x="173.70" y="595.80" font-size="13.4" text-anchor="start" font-weight="normal" fill="#9E6842" >R² = 0.9886</text>
<text x="91.30" y="453.50" font-size="14.2" text-anchor="start" font-weight="bold" fill="#000" >Perlite</text>
<circle cx="160.40" cy="447.70" r="2.7" fill="#4472C4"/>
<text x="166.80" y="451.80" font-size="12.3" text-anchor="start" font-weight="normal" fill="#000" >Non-P</text>
<circle cx="207.30" cy="447.70" r="2.7" fill="#ED7D31"/>
<text x="213.30" y="451.80" font-size="12.3" text-anchor="start" font-weight="normal" fill="#000" >Viv-P</text>
<circle cx="252.50" cy="447.70" r="2.7" fill="#00B050"/>
<text x="257.90" y="451.80" font-size="12.3" text-anchor="start" font-weight="normal" fill="#000" >MP</text>
<text x="176.90" y="643.80" font-size="14" text-anchor="start" font-weight="bold" fill="#000" >Day</text>
<text x="59.50" y="453.60" font-size="21.0" text-anchor="start" font-weight="bold" fill="#000" >e</text>
<path d="M394.60 609.30 L394.60 435.70 L671.50 435.70 L671.50 609.30 Z" fill="none" stroke="#4a4a4a" stroke-width="1.25"/>
<line x1="394.60" y1="609.30" x2="394.60" y2="606.10" stroke="#4a4a4a" stroke-width="1.0" />
<line x1="408.45" y1="609.30" x2="408.45" y2="606.10" stroke="#4a4a4a" stroke-width="1.0" />
<line x1="422.29" y1="609.30" x2="422.29" y2="606.10" stroke="#4a4a4a" stroke-width="1.0" />
<line x1="436.13" y1="609.30" x2="436.13" y2="606.10" stroke="#4a4a4a" stroke-width="1.0" />
<line x1="449.98" y1="609.30" x2="449.98" y2="606.10" stroke="#4a4a4a" stroke-width="1.0" />
<line x1="463.83" y1="609.30" x2="463.83" y2="606.10" stroke="#4a4a4a" stroke-width="1.0" />
<line x1="477.67" y1="609.30" x2="477.67" y2="606.10" stroke="#4a4a4a" stroke-width="1.0" />
<line x1="491.51" y1="609.30" x2="491.51" y2="606.10" stroke="#4a4a4a" stroke-width="1.0" />
<line x1="505.36" y1="609.30" x2="505.36" y2="606.10" stroke="#4a4a4a" stroke-width="1.0" />
<line x1="519.21" y1="609.30" x2="519.21" y2="606.10" stroke="#4a4a4a" stroke-width="1.0" />
<line x1="533.05" y1="609.30" x2="533.05" y2="606.10" stroke="#4a4a4a" stroke-width="1.0" />
<line x1="546.89" y1="609.30" x2="546.89" y2="606.10" stroke="#4a4a4a" stroke-width="1.0" />
<line x1="560.74" y1="609.30" x2="560.74" y2="606.10" stroke="#4a4a4a" stroke-width="1.0" />
<line x1="574.59" y1="609.30" x2="574.59" y2="606.10" stroke="#4a4a4a" stroke-width="1.0" />
<line x1="588.43" y1="609.30" x2="588.43" y2="606.10" stroke="#4a4a4a" stroke-width="1.0" />
<line x1="602.27" y1="609.30" x2="602.27" y2="606.10" stroke="#4a4a4a" stroke-width="1.0" />
<line x1="616.12" y1="609.30" x2="616.12" y2="606.10" stroke="#4a4a4a" stroke-width="1.0" />
<line x1="629.97" y1="609.30" x2="629.97" y2="606.10" stroke="#4a4a4a" stroke-width="1.0" />
<line x1="643.81" y1="609.30" x2="643.81" y2="606.10" stroke="#4a4a4a" stroke-width="1.0" />
<line x1="657.65" y1="609.30" x2="657.65" y2="606.10" stroke="#4a4a4a" stroke-width="1.0" />
<line x1="671.50" y1="609.30" x2="671.50" y2="606.10" stroke="#4a4a4a" stroke-width="1.0" />
<text x="394.60" y="630.90" font-size="14" text-anchor="middle" font-weight="normal" fill="#000" >0</text>
<text x="422.29" y="630.90" font-size="14" text-anchor="middle" font-weight="normal" fill="#000" >10</text>
<text x="449.98" y="630.90" font-size="14" text-anchor="middle" font-weight="normal" fill="#000" >20</text>
<text x="477.67" y="630.90" font-size="14" text-anchor="middle" font-weight="normal" fill="#000" >30</text>
<text x="505.36" y="630.90" font-size="14" text-anchor="middle" font-weight="normal" fill="#000" >40</text>
<text x="533.05" y="630.90" font-size="14" text-anchor="middle" font-weight="normal" fill="#000" >50</text>
<text x="560.74" y="630.90" font-size="14" text-anchor="middle" font-weight="normal" fill="#000" >60</text>
<text x="588.43" y="630.90" font-size="14" text-anchor="middle" font-weight="normal" fill="#000" >70</text>
<text x="616.12" y="630.90" font-size="14" text-anchor="middle" font-weight="normal" fill="#000" >80</text>
<text x="643.81" y="630.90" font-size="14" text-anchor="middle" font-weight="normal" fill="#000" >90</text>
<text x="671.50" y="630.90" font-size="14" text-anchor="middle" font-weight="normal" fill="#000" >100</text>
<line x1="394.60" y1="609.30" x2="397.80" y2="609.30" stroke="#4a4a4a" stroke-width="1.25" />
<line x1="394.60" y1="598.45" x2="397.80" y2="598.45" stroke="#4a4a4a" stroke-width="1.25" />
<line x1="394.60" y1="587.60" x2="397.80" y2="587.60" stroke="#4a4a4a" stroke-width="1.25" />
<line x1="394.60" y1="576.75" x2="397.80" y2="576.75" stroke="#4a4a4a" stroke-width="1.25" />
<line x1="394.60" y1="565.90" x2="397.80" y2="565.90" stroke="#4a4a4a" stroke-width="1.25" />
<line x1="394.60" y1="555.05" x2="397.80" y2="555.05" stroke="#4a4a4a" stroke-width="1.25" />
<line x1="394.60" y1="544.20" x2="397.80" y2="544.20" stroke="#4a4a4a" stroke-width="1.25" />
<line x1="394.60" y1="533.35" x2="397.80" y2="533.35" stroke="#4a4a4a" stroke-width="1.25" />
<line x1="394.60" y1="522.50" x2="397.80" y2="522.50" stroke="#4a4a4a" stroke-width="1.25" />
<line x1="394.60" y1="511.65" x2="397.80" y2="511.65" stroke="#4a4a4a" stroke-width="1.25" />
<line x1="394.60" y1="500.80" x2="397.80" y2="500.80" stroke="#4a4a4a" stroke-width="1.25" />
<line x1="394.60" y1="489.95" x2="397.80" y2="489.95" stroke="#4a4a4a" stroke-width="1.25" />
<line x1="394.60" y1="479.10" x2="397.80" y2="479.10" stroke="#4a4a4a" stroke-width="1.25" />
<line x1="394.60" y1="468.25" x2="397.80" y2="468.25" stroke="#4a4a4a" stroke-width="1.25" />
<line x1="394.60" y1="457.40" x2="397.80" y2="457.40" stroke="#4a4a4a" stroke-width="1.25" />
<line x1="394.60" y1="446.55" x2="397.80" y2="446.55" stroke="#4a4a4a" stroke-width="1.25" />
<line x1="394.60" y1="435.70" x2="397.80" y2="435.70" stroke="#4a4a4a" stroke-width="1.25" />
<text x="381.20" y="614.10" font-size="14" text-anchor="end" font-weight="normal" fill="#000" >0</text>
<text x="381.20" y="592.40" font-size="14" text-anchor="end" font-weight="normal" fill="#000" >1</text>
<text x="381.20" y="570.70" font-size="14" text-anchor="end" font-weight="normal" fill="#000" >2</text>
<text x="381.20" y="549.00" font-size="14" text-anchor="end" font-weight="normal" fill="#000" >3</text>
<text x="381.20" y="527.30" font-size="14" text-anchor="end" font-weight="normal" fill="#000" >4</text>
<text x="381.20" y="505.60" font-size="14" text-anchor="end" font-weight="normal" fill="#000" >5</text>
<text x="381.20" y="483.90" font-size="14" text-anchor="end" font-weight="normal" fill="#000" >6</text>
<text x="381.20" y="462.20" font-size="14" text-anchor="end" font-weight="normal" fill="#000" >7</text>
<text x="381.20" y="440.50" font-size="14" text-anchor="end" font-weight="normal" fill="#000" >8</text>
<text x="0" y="0" font-size="14.5" font-weight="bold" text-anchor="middle" fill="#000" transform="translate(366.00,520.40) rotate(-90)">P uptake (mg/pot)</text>
<line x1="441.67" y1="608.94" x2="657.65" y2="608.27" stroke="#597099" stroke-width="1.6" stroke-dasharray="1.6 1.9"/>
<line x1="441.67" y1="605.11" x2="657.65" y2="580.24" stroke="#C28A64" stroke-width="1.6" stroke-dasharray="1.6 1.9"/>
<line x1="441.67" y1="574.57" x2="657.65" y2="458.47" stroke="#389060" stroke-width="1.6" stroke-dasharray="1.6 1.9"/>
<circle cx="441.67" cy="608.87" r="3.2" fill="#4472C4"/>
<circle cx="483.21" cy="608.87" r="3.2" fill="#4472C4"/>
<circle cx="560.74" cy="608.65" r="3.2" fill="#4472C4"/>
<circle cx="657.65" cy="608.21" r="3.2" fill="#4472C4"/>
<circle cx="441.67" cy="604.31" r="3.2" fill="#ED7D31"/>
<circle cx="483.21" cy="599.10" r="3.2" fill="#ED7D31"/>
<circle cx="560.74" cy="595.41" r="3.2" fill="#ED7D31"/>
<circle cx="657.65" cy="578.27" r="3.2" fill="#ED7D31"/>
<circle cx="441.67" cy="576.75" r="3.2" fill="#00B050"/>
<circle cx="483.21" cy="552.45" r="3.2" fill="#00B050"/>
<line x1="560.74" y1="501.23" x2="560.74" y2="509.48" stroke="#404040" stroke-width="1" />
<line x1="557.94" y1="501.23" x2="563.54" y2="501.23" stroke="#404040" stroke-width="1" />
<line x1="557.94" y1="509.48" x2="563.54" y2="509.48" stroke="#404040" stroke-width="1" />
<circle cx="560.74" cy="505.36" r="3.2" fill="#00B050"/>
<line x1="657.65" y1="457.18" x2="657.65" y2="465.43" stroke="#404040" stroke-width="1" />
<line x1="654.86" y1="457.18" x2="660.45" y2="457.18" stroke="#404040" stroke-width="1" />
<line x1="654.86" y1="465.43" x2="660.45" y2="465.43" stroke="#404040" stroke-width="1" />
<circle cx="657.65" cy="461.31" r="3.2" fill="#00B050"/>
<text x="472.80" y="520.20" font-size="13.4" text-anchor="start" font-weight="normal" fill="#35935F" >R² = 0.9952</text>
<text x="558.40" y="580.80" font-size="13.4" text-anchor="start" font-weight="normal" fill="#9E6842" >R² = 0.9407</text>
<text x="441.70" y="453.20" font-size="14.2" text-anchor="start" font-weight="bold" fill="#000" >Quartz</text>
<circle cx="513.00" cy="447.10" r="2.7" fill="#4472C4"/>
<text x="519.50" y="451.20" font-size="12.3" text-anchor="start" font-weight="normal" fill="#000" >Non-P</text>
<circle cx="560.00" cy="447.10" r="2.7" fill="#ED7D31"/>
<text x="566.40" y="451.20" font-size="12.3" text-anchor="start" font-weight="normal" fill="#000" >Viv-P</text>
<circle cx="604.60" cy="447.10" r="2.7" fill="#00B050"/>
<text x="610.60" y="451.20" font-size="12.3" text-anchor="start" font-weight="normal" fill="#000" >MP</text>
<text x="521.30" y="642.40" font-size="14" text-anchor="start" font-weight="bold" fill="#000" >Day</text>
<text x="406.50" y="456.80" font-size="21.0" text-anchor="start" font-weight="bold" fill="#000" >f</text>
</svg>
</body></html>
